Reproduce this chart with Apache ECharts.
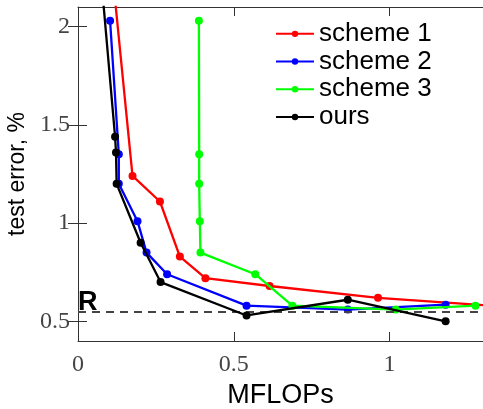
<!DOCTYPE html>
<html>
<head>
<meta charset="utf-8">
<script src="https://cdn.jsdelivr.net/npm/echarts@6/dist/echarts.min.js"></script>
<style>
html,body{margin:0;padding:0;background:#fff;}
#chart{width:483px;height:409px;}
</style>
</head>
<body>
<div id="chart"></div>
<script>
const seriesNames = ['scheme 1', 'scheme 2', 'scheme 3', 'ours'];
const scheme1X = [0.09, 0.175, 0.263, 0.327, 0.409, 0.615, 0.963, 1.32];
const scheme1Y = [2.6, 1.24, 1.11, 0.83, 0.72, 0.68, 0.62, 0.58];
const scheme2X = [0.103, 0.131, 0.131, 0.191, 0.22, 0.286, 0.541, 0.866, 1.18];
const scheme2Y = [2.03, 1.35, 1.20, 1.01, 0.85, 0.74, 0.58, 0.56, 0.585];
const scheme3X = [0.388, 0.389, 0.389, 0.391, 0.393, 0.569, 0.688, 1.02, 1.276];
const scheme3Y = [2.03, 1.35, 1.20, 1.01, 0.85, 0.74, 0.58, 0.56, 0.58];
const oursX = [0.055, 0.119, 0.122, 0.124, 0.201, 0.265, 0.541, 0.866, 1.18];
const oursY = [2.6, 1.44, 1.36, 1.20, 0.90, 0.70, 0.53, 0.61, 0.50];
const xTickValues = [0, 0.5, 1];
const yTickValues = [0.5, 1, 1.5, 2];
const referenceValue = 0.55;
const referenceLabel = 'R';
const xTitle = 'MFLOPs';
const yTitle = 'test error, %';

const colors = ['#ff0000', '#0000ff', '#00ff00', '#000000'];
const xs = [scheme1X, scheme2X, scheme3X, oursX];
const ys = [scheme1Y, scheme2Y, scheme3Y, oursY];

const chart = echarts.init(document.getElementById('chart'), null, {renderer: 'canvas'});
const tickFont = {fontFamily: 'Liberation Serif', fontSize: 24, color: '#444'};
const axisLineStyle = {color: '#333', width: 1};

const series = seriesNames.map((name, i) => ({
  name: name,
  type: 'line',
  data: xs[i].map((x, j) => [x, ys[i][j]]),
  symbol: 'circle',
  symbolSize: 8,
  clip: true,
  lineStyle: {color: colors[i], width: 2.3},
  itemStyle: {color: colors[i]},
  z: 2 + i
}));
series[3].markLine = {
  silent: true,
  symbol: 'none',
  lineStyle: {color: '#444', width: 2, type: [8, 6]},
  label: {
    show: true,
    position: 'insideStartTop',
    formatter: referenceLabel,
    fontFamily: 'Liberation Sans',
    fontWeight: 'bold',
    fontSize: 27,
    color: '#000',
    distance: [0, -5]
  },
  data: [{yAxis: referenceValue}]
};

chart.setOption({
  animation: false,
  color: colors,
  grid: {left: 78, top: 7, width: 405, height: 334, containLabel: false, outerBoundsMode: 'none'},
  legend: {
    show: true,
    orient: 'vertical',
    left: 275,
    top: 20,
    itemWidth: 38,
    itemHeight: 8,
    itemGap: 0,
    padding: 0,
    data: seriesNames,
    textStyle: {fontFamily: 'Liberation Sans', fontSize: 26, color: '#000', lineHeight: 27.7}
  },
  xAxis: [{
    type: 'value',
    min: 0,
    max: 1.3,
    name: xTitle,
    nameLocation: 'middle',
    nameGap: 39,
    nameTextStyle: {fontFamily: 'Liberation Sans', fontSize: 27, color: '#000'},
    axisLine: {show: true, lineStyle: axisLineStyle},
    axisTick: {show: true, inside: true, length: 9, lineStyle: axisLineStyle, customValues: xTickValues},
    axisLabel: Object.assign({margin: 12, customValues: xTickValues}, tickFont),
    splitLine: {show: false}
  }, {
    type: 'value',
    position: 'top',
    min: 0,
    max: 1.3,
    axisLine: {show: true, lineStyle: axisLineStyle},
    axisTick: {show: true, inside: true, length: 9, lineStyle: axisLineStyle, customValues: xTickValues},
    axisLabel: {show: false},
    splitLine: {show: false}
  }],
  yAxis: [{
    type: 'value',
    min: 0.4,
    max: 2.1,
    name: yTitle,
    nameLocation: 'middle',
    nameGap: 44,
    nameRotate: 90,
    nameTextStyle: {fontFamily: 'Liberation Sans', fontSize: 23, color: '#000'},
    axisLine: {show: true, lineStyle: axisLineStyle},
    axisTick: {show: true, inside: true, length: 9, lineStyle: axisLineStyle, customValues: yTickValues},
    axisLabel: Object.assign({margin: 8, customValues: yTickValues}, tickFont),
    splitLine: {show: false}
  }, {
    type: 'value',
    position: 'right',
    min: 0.4,
    max: 2.1,
    axisLine: {show: false},
    axisTick: {show: true, inside: true, length: 10, lineStyle: axisLineStyle, customValues: yTickValues},
    axisLabel: {show: false},
    splitLine: {show: false}
  }],
  series: series
});
</script>
</body>
</html>
